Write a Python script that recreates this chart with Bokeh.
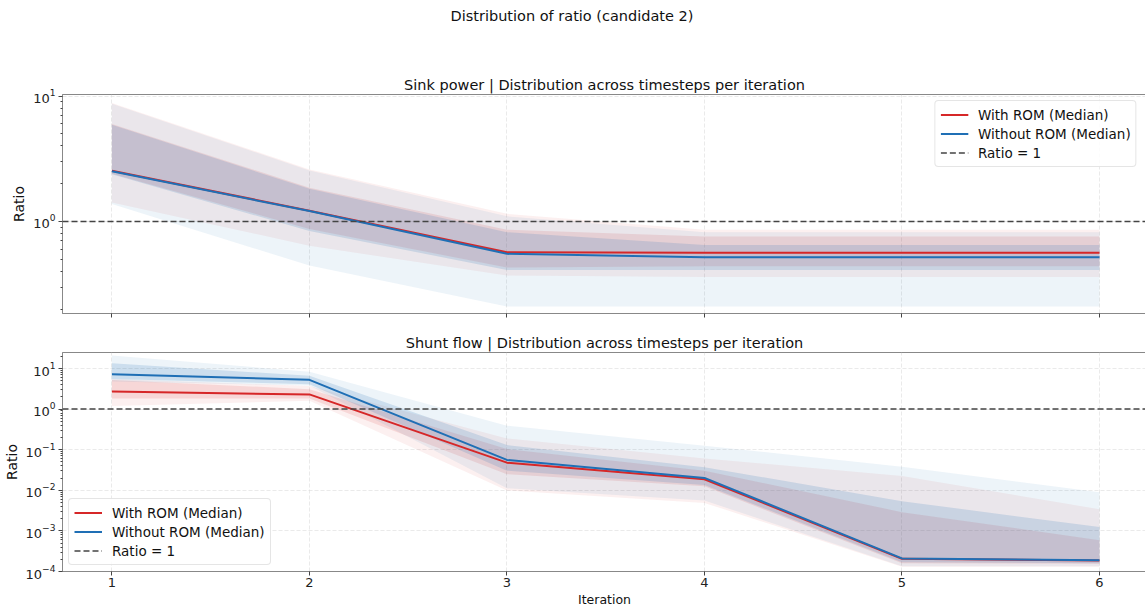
from bokeh.plotting import figure
from bokeh.layouts import column
from bokeh.models import (Span, Legend, LegendItem, FixedTicker, Range1d,
                          CustomJSTickFormatter)
from bokeh.embed import file_html
from bokeh.resources import INLINE

FONT = "DejaVu Sans"
RED = "#d62728"
BLUE = "#1f6fb5"
REF_COLOR = "#444444"

iterations = [1, 2, 3, 4, 5, 6]
ratio_ref = 1.0
decade_ticks = [1e-4, 1e-3, 1e-2, 1e-1, 1.0, 10.0]

suptitle = "Distribution of ratio (candidate 2)"
top_title = "Sink power | Distribution across timesteps per iteration"
bottom_title = "Shunt flow | Distribution across timesteps per iteration"
legend_labels = ["With ROM (Median)", "Without ROM (Median)", "Ratio = 1"]

# Sink power (top panel): percentiles across timesteps
sink_with_p5 = [1.42, 0.64, 0.37, 0.36, 0.36, 0.36]
sink_with_p25 = [2.40, 0.87, 0.43, 0.44, 0.44, 0.44]
sink_with_med = [2.54, 1.22, 0.568, 0.563, 0.563, 0.563]
sink_with_p75 = [6.0, 1.86, 0.86, 0.76, 0.76, 0.76]
sink_with_p95 = [8.8, 2.60, 1.15, 0.86, 0.86, 0.86]
sink_without_p5 = [1.38, 0.445, 0.21, 0.21, 0.21, 0.21]
sink_without_p25 = [2.38, 0.84, 0.41, 0.41, 0.41, 0.41]
sink_without_med = [2.52, 1.21, 0.552, 0.518, 0.518, 0.518]
sink_without_p75 = [5.9, 1.82, 0.82, 0.65, 0.65, 0.65]
sink_without_p95 = [8.7, 2.55, 1.10, 0.82, 0.82, 0.82]

# Shunt flow (bottom panel)
shunt_with_p5 = [1.2, 1.6, 0.0099, 0.0049, 1.3e-4, 1.3e-4]
shunt_with_p25 = [1.82, 1.83, 0.025, 0.0126, 1.6e-4, 1.55e-4]
shunt_with_med = [2.7, 2.3, 0.048, 0.0187, 2.05e-4, 1.87e-4]
shunt_with_p75 = [5.2, 3.1, 0.104, 0.0305, 0.0029, 5.9e-4]
shunt_with_p95 = [5.5, 3.7, 0.19, 0.061, 0.0224, 0.0034]
shunt_without_p5 = [4.8, 3.8, 0.0112, 0.0056, 1.35e-4, 1.35e-4]
shunt_without_p25 = [5.5, 4.1, 0.0305, 0.0136, 1.7e-4, 1.6e-4]
shunt_without_med = [7.2, 5.25, 0.056, 0.0202, 2.1e-4, 1.9e-4]
shunt_without_p75 = [13.5, 6.6, 0.13, 0.037, 0.0054, 0.00124]
shunt_without_p95 = [21.0, 8.3, 0.39, 0.126, 0.038, 0.009]

# band opacities (outer = 5-95 %, inner = 25-75 %)
BAND_ALPHA = {RED: (0.07, 0.12), BLUE: (0.08, 0.16)}


def style_title(t, size):
    t.text_font = FONT
    t.text_font_size = size
    t.text_font_style = "normal"
    t.text_color = "#111111"


def make_panel(title, y_lo, y_hi, frame_h, border_top, border_bottom,
               with_bands, without_bands, legend_loc, show_xlabels):
    p = figure(x_range=Range1d(0.75, 6.238), y_range=Range1d(y_lo, y_hi),
               y_axis_type="log", frame_width=1084, frame_height=frame_h,
               min_border_left=61, min_border_right=0,
               min_border_top=border_top, min_border_bottom=border_bottom,
               output_backend="svg", toolbar_location=None,
               background_fill_color="white", border_fill_color="white")
    p.title.text = title
    p.title.align = "center"
    style_title(p.title, "14.5px")
    p.title.standoff = 3

    for (p5, p25, med, p75, p95), color in ((with_bands, RED), (without_bands, BLUE)):
        a_out, a_in = BAND_ALPHA[color]
        p.varea(x=iterations, y1=p5, y2=p95, fill_color=color, fill_alpha=a_out)
        p.varea(x=iterations, y1=p25, y2=p75, fill_color=color, fill_alpha=a_in)

    r_with = p.line(iterations, with_bands[2], line_color=RED, line_width=2)
    r_without = p.line(iterations, without_bands[2], line_color=BLUE, line_width=2)
    p.add_layout(Span(location=ratio_ref, dimension="width", line_color=REF_COLOR,
                      line_dash="6 3", line_width=1.5))
    # legend proxy for the reference line: a single point, draws nothing itself
    r_ref = p.line(x=iterations[:1], y=[ratio_ref], line_color=REF_COLOR,
                   line_dash="6 3", line_width=1.5)

    legend = Legend(items=[LegendItem(label=legend_labels[0], renderers=[r_with]),
                           LegendItem(label=legend_labels[1], renderers=[r_without]),
                           LegendItem(label=legend_labels[2], renderers=[r_ref])],
                    location=legend_loc, margin=6, padding=5, spacing=2,
                    label_height=17, glyph_height=17, glyph_width=28,
                    label_standoff=10, label_text_font=FONT,
                    label_text_font_size="13.5px", label_text_color="#111111",
                    border_line_color="#cccccc", border_line_width=1,
                    border_radius=4, background_fill_alpha=0.85)
    p.add_layout(legend, "center")

    # axes
    p.xaxis.ticker = FixedTicker(ticks=iterations)
    minor = [m * 10.0 ** e for e in range(-5, 2) for m in range(2, 10)]
    p.yaxis.ticker = FixedTicker(ticks=decade_ticks, minor_ticks=minor)
    for ax in (p.xaxis[0], p.yaxis[0]):
        ax.axis_line_color = "#888888"
        ax.major_tick_line_color = "#444444"
        ax.minor_tick_line_color = "#444444"
        ax.major_tick_out = 4
        ax.major_tick_in = 0
        ax.minor_tick_out = 2
        ax.minor_tick_in = 0
        ax.major_label_text_font = FONT
        ax.major_label_text_font_size = "13px"
        ax.major_label_text_color = "#222222"
        ax.axis_label_text_font = FONT
        ax.axis_label_text_font_style = "normal"
        ax.axis_label_text_color = "#111111"
    p.yaxis.axis_label = "Ratio"
    p.yaxis.axis_label_text_font_size = "14px"
    p.xaxis.axis_label_text_font_size = "12.5px"
    p.yaxis.major_label_standoff = 3
    p.yaxis.axis_label_standoff = 3
    p.xaxis.major_label_standoff = 2
    p.xaxis.axis_label_standoff = 2
    if show_xlabels:
        p.xaxis.axis_label = "Iteration"
    else:
        p.xaxis.formatter = CustomJSTickFormatter(code="return ''")

    p.xgrid.ticker = FixedTicker(ticks=iterations)
    p.ygrid.ticker = FixedTicker(ticks=decade_ticks)
    for g in (p.xgrid[0], p.ygrid[0]):
        g.grid_line_color = "#d8d8d8"
        g.grid_line_dash = "4 2"
        g.grid_line_alpha = 0.55
    p.outline_line_color = "#888888"
    p.outline_line_width = 1
    return p


# figure-level title (suptitle) in its own strip
p0 = figure(width=1145, height=36, min_border=0, toolbar_location=None,
            output_backend="svg", x_axis_location=None, y_axis_location=None,
            outline_line_color=None, background_fill_color="white",
            border_fill_color="white")
p0.title.text = suptitle
p0.title.align = "left"
p0.title.offset = 388
style_title(p0.title, "14.5px")
p0.title.standoff = 10
p0.xgrid.visible = False
p0.ygrid.visible = False

p1 = make_panel(top_title, 0.1845, 10.3, 219, 58, 17,
                (sink_with_p5, sink_with_p25, sink_with_med, sink_with_p75, sink_with_p95),
                (sink_without_p5, sink_without_p25, sink_without_med, sink_without_p75, sink_without_p95),
                "top_right", False)

p2 = make_panel(bottom_title, 1e-4, 24.8, 219, 22, 35,
                (shunt_with_p5, shunt_with_p25, shunt_with_med, shunt_with_p75, shunt_with_p95),
                (shunt_without_p5, shunt_without_p25, shunt_without_med, shunt_without_p75, shunt_without_p95),
                "bottom_left", True)

layout = column(p0, p1, p2, spacing=0)
open("out.html", "w").write(file_html(layout, INLINE))
